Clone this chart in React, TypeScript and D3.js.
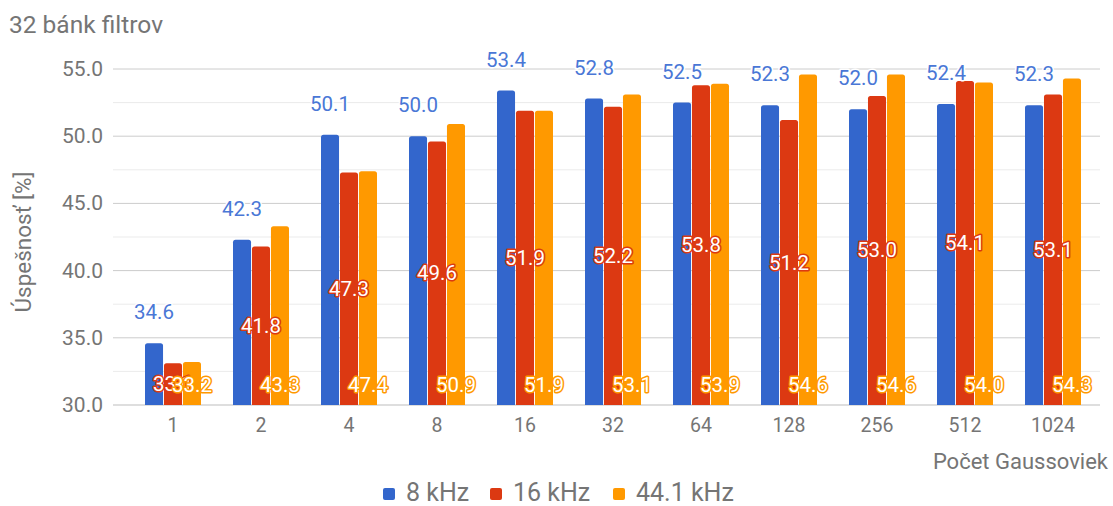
import React from 'react';
import * as d3 from 'd3';

// Počet Gaussoviek (x categories)
const categories = ['1', '2', '4', '8', '16', '32', '64', '128', '256', '512', '1024'];
const seriesNames = ['8 kHz', '16 kHz', '44.1 kHz'];
const s8k = [34.6, 42.3, 50.1, 50.0, 53.4, 52.8, 52.5, 52.3, 52.0, 52.4, 52.3];
const s16k = [33.1, 41.8, 47.3, 49.6, 51.9, 52.2, 53.8, 51.2, 53.0, 54.1, 53.1];
const s44k = [33.2, 43.3, 47.4, 50.9, 51.9, 53.1, 53.9, 54.6, 54.6, 54.0, 54.3];
const yTicks = [30, 35, 40, 45, 50, 55];
const yMinorTicks = [32.5, 37.5, 42.5, 47.5, 52.5];

const colors = ['#3366cc', '#dc3912', '#ff9900'];
const FONT = 'Roboto, "Noto Sans", sans-serif';
const GRAY = '#757575';

const W = 1113;
const H = 506;

function topRoundedBar(x: number, y: number, w: number, h: number, r: number) {
  const rr = Math.min(r, h, w / 2);
  return `M${x},${y + h}V${y + rr}Q${x},${y} ${x + rr},${y}H${x + w - rr}Q${x + w},${y} ${x + w},${y + rr}V${y + h}Z`;
}

export default function App() {
  const values = [s8k, s16k, s44k];

  const y = d3.scaleLinear().domain([30, 55]).range([405, 69]);
  const x = d3.scaleBand<string>().domain(categories).range([129, 1097]).padding(0);
  const groupW = 56;
  const inner = d3
    .scaleBand<number>()
    .domain([0, 1, 2])
    .range([0, groupW])
    .paddingInner(0.05);

  const gridLeft = 113;
  const gridRight = 1100;
  const base = y(30);

  const legendX = [383, 490, 613];

  return (
    <svg
      width={W}
      height={H}
      style={{ position: 'absolute', left: 0, top: 0, background: '#fff' }}
      fontFamily={FONT}
    >
      {/* title */}
      <text x={9} y={33} fontSize={24.5} fill={GRAY}>
        32 bánk filtrov
      </text>

      {/* gridlines */}
      {yMinorTicks.map((t) => (
        <line key={'m' + t} x1={gridLeft} x2={gridRight} y1={y(t)} y2={y(t)} stroke="#ebebeb" strokeWidth={1} />
      ))}
      {yTicks.map((t) => (
        <g key={t}>
          <line
            x1={gridLeft}
            x2={gridRight}
            y1={y(t)}
            y2={y(t)}
            stroke={t === 30 ? '#bdbdbd' : '#cccccc'}
            strokeWidth={1}
          />
          <text x={103} y={y(t) + 7} textAnchor="end" fontSize={21} fill={GRAY}>
            {t.toFixed(1)}
          </text>
        </g>
      ))}

      {/* bars */}
      {categories.map((c, i) => {
        const gx = (x(c) as number) + x.bandwidth() / 2 - groupW / 2;
        return (
          <g key={c}>
            {values.map((vals, s) => (
              <path
                key={s}
                d={topRoundedBar(gx + (inner(s) as number), y(vals[i]), inner.bandwidth(), base - y(vals[i]), 2.5)}
                fill={colors[s]}
              />
            ))}
          </g>
        );
      })}

      {/* annotations */}
      {categories.map((c, i) => {
        const gx = (x(c) as number) + x.bandwidth() / 2 - groupW / 2;
        const cx = (s: number) => gx + (inner(s) as number) + inner.bandwidth() / 2;
        const t0 = y(s8k[i]);
        const t1 = y(s16k[i]);
        return (
          <g key={'a' + c} fontSize={20.5} textAnchor="middle" style={{ paintOrder: 'stroke' }}>
            <text x={cx(0)} y={t0 - 24} fill="#4a77d6" stroke="#fff" strokeWidth={3} strokeLinejoin="round">
              {s8k[i].toFixed(1)}
            </text>
            <text x={cx(1)} y={(t1 + base) / 2 + 7} fill="#fff" stroke={colors[1]} strokeWidth={3} strokeLinejoin="round">
              {s16k[i].toFixed(1)}
            </text>
            <text x={cx(2)} y={base - 13} fill="#fff" stroke={colors[2]} strokeWidth={3} strokeLinejoin="round">
              {s44k[i].toFixed(1)}
            </text>
          </g>
        );
      })}

      {/* x labels */}
      {categories.map((c) => (
        <text
          key={'x' + c}
          x={(x(c) as number) + x.bandwidth() / 2}
          y={432}
          textAnchor="middle"
          fontSize={19.5}
          fill={GRAY}
        >
          {c}
        </text>
      ))}

      {/* axis titles */}
      <text x={1108} y={469} textAnchor="end" fontSize={22} fill={GRAY}>
        Počet Gaussoviek
      </text>
      <text transform="translate(31,242) rotate(-90)" textAnchor="middle" fontSize={22.5} fill={GRAY}>
        Úspešnosť [%]
      </text>

      {/* legend */}
      {seriesNames.map((n, s) => (
        <g key={n}>
          <rect x={legendX[s]} y={488} width={12} height={12} rx={2} fill={colors[s]} />
          <text x={legendX[s] + 23} y={501} fontSize={25} fill={GRAY}>
            {n}
          </text>
        </g>
      ))}
    </svg>
  );
}
